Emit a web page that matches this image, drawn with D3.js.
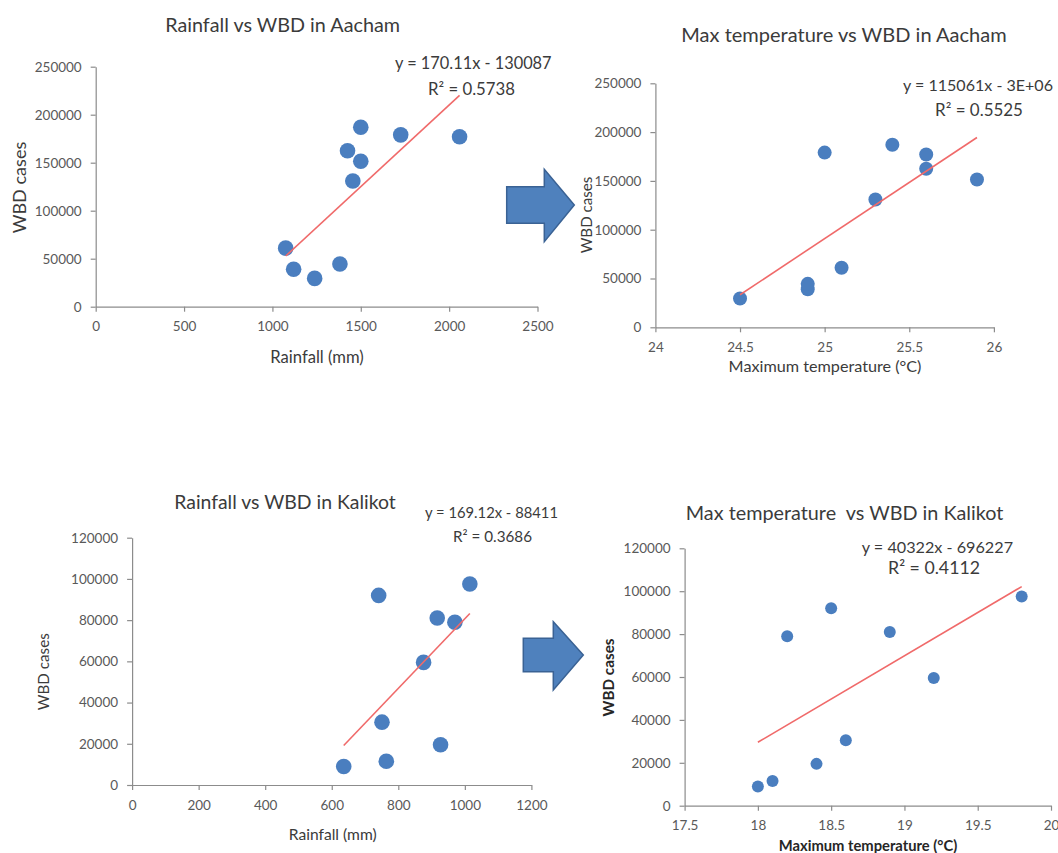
<!DOCTYPE html>
<html>
<head>
<meta charset="utf-8">
<script src="https://cdn.jsdelivr.net/npm/d3@7"></script>
<style>
  html, body { margin: 0; padding: 0; background: #fff; }
  svg { display: block; }
  text { font-family: Lato, "Open Sans", sans-serif; }
</style>
</head>
<body>
<svg id="chart" width="1058" height="853"></svg>
<script>
// ---------------- DATA ----------------
const aachamRainfall = [1075, 1120, 1239, 1382, 1455, 1425, 1500, 1500, 1726, 2059];
const aachamMaxTemp  = [25.1, 24.9, 24.5, 24.9, 25.3, 25.6, 25.9, 25.4, 25.0, 25.6];
const aachamWBD      = [61000, 39000, 29500, 44500, 131000, 162500, 151500, 187000, 179000, 177000];

const kalikotRainfall = [636, 764, 970, 927, 741, 751, 917, 876, 1015];
const kalikotMaxTemp  = [18.0, 18.1, 18.2, 18.4, 18.5, 18.6, 18.9, 19.2, 19.8];
const kalikotWBD      = [9000, 11500, 79000, 19500, 92000, 30500, 81000, 59500, 97500];

const rainAachamTicks  = [0, 500, 1000, 1500, 2000, 2500];
const tempAachamTicks  = [24, 24.5, 25, 25.5, 26];
const wbdAachamTicks   = [0, 50000, 100000, 150000, 200000, 250000];
const rainKalikotTicks = [0, 200, 400, 600, 800, 1000, 1200];
const tempKalikotTicks = [17.5, 18, 18.5, 19, 19.5, 20];
const wbdKalikotTicks  = [0, 20000, 40000, 60000, 80000, 100000, 120000];

const chartTitles = ["Rainfall vs WBD in Aacham", "Max temperature vs WBD in Aacham",
                     "Rainfall vs WBD in Kalikot", "Max temperature  vs WBD in Kalikot"];
const xAxisTitles = ["Rainfall (mm)", "Maximum temperature (°C)", "Rainfall (mm)", "Maximum temperature (°C)"];
const yAxisTitle  = "WBD cases";

const trendSlopes     = [170.11, 115061, 169.12, 40322];
const trendIntercepts = [-130087, -2785650, -88411, -696227];
const equationLabels  = ["y = 170.11x - 130087", "y = 115061x - 3E+06", "y = 169.12x - 88411", "y = 40322x - 696227"];
const r2Labels        = ["R² = 0.5738", "R² = 0.5525", "R² = 0.3686", "R² = 0.4112"];

// ---------------- LAYOUT ----------------
const panels = [
  { xs: aachamRainfall, ys: aachamWBD, xTicks: rainAachamTicks, yTicks: wbdAachamTicks,
    xr: [95.7, 537.5], yr: [306.7, 66.7], r: 7.8,
    title: {x: 282.6, y: 25, w: 235}, xt: {x: 317, y: 356.7, w: 93.6}, yt: {x: 19.6, y: 187.5, w: 91.6},
    eq1: {x: 473.3, y: 63.5, w: 156.7}, eq2: {x: 471.5, y: 89, w: 87}, bold: false },
  { xs: aachamMaxTemp, ys: aachamWBD, xTicks: tempAachamTicks, yTicks: wbdAachamTicks,
    xr: [655.4, 993.9], yr: [327.3, 83.3], r: 7.0,
    title: {x: 844, y: 35, w: 325.6}, xt: {x: 825, y: 366.7, w: 193}, yt: {x: 586.8, y: 215, w: 76.7},
    eq1: {x: 978, y: 85, w: 150}, eq2: {x: 979, y: 110, w: 88}, bold: false },
  { xs: kalikotRainfall, ys: kalikotWBD, xTicks: rainKalikotTicks, yTicks: wbdKalikotTicks,
    xr: [132.1, 531.4], yr: [785, 537.7], r: 7.8,
    title: {x: 285, y: 502.7, w: 221.7}, xt: {x: 332.7, y: 835, w: 88}, yt: {x: 43.6, y: 671.7, w: 77},
    eq1: {x: 491.5, y: 513, w: 133}, eq2: {x: 492.5, y: 537, w: 79}, bold: false },
  { xs: kalikotMaxTemp, ys: kalikotWBD, xTicks: tempKalikotTicks, yTicks: wbdKalikotTicks,
    xr: [684.6, 1051], yr: [805.7, 548.3], r: 6.0,
    title: {x: 844.6, y: 513.3, w: 318}, xt: {x: 868, y: 846, w: 178.6}, yt: {x: 609, y: 677.5, w: 78},
    eq1: {x: 937.4, y: 547, w: 151.3}, eq2: {x: 934, y: 568, w: 92}, bold: true }
];

const arrows = [
  { left: 506.7, st: 186.7, sb: 223.3, hb: 544.3, ht: 169.3, hbo: 241.7, tip: 574.3 },
  { left: 523.3, st: 638.3, sb: 671.7, hb: 553.3, ht: 621.7, hbo: 690.0, tip: 583.3 }
];

const svg = d3.select("#chart");
svg.append("rect").attr("width", 1058).attr("height", 853).attr("fill", "#fff");

function fit(sel, w) {
  const base = 20;
  sel.attr("font-size", base);
  const len = sel.node().getComputedTextLength();
  sel.attr("font-size", base * w / len);
  return sel;
}

const AXIS = "#8c8c8c", TICKTXT = "#595959", TXT = "#3b3b3b";
const DOT = "#4a7ebf", TREND = "#f06a6a";

panels.forEach((p, i) => {
  const x = d3.scaleLinear().domain(d3.extent(p.xTicks)).range(p.xr);
  const y = d3.scaleLinear().domain(d3.extent(p.yTicks)).range(p.yr);
  const g = svg.append("g");

  const xa = g.append("g").attr("transform", `translate(0,${p.yr[0]})`)
    .call(d3.axisBottom(x).tickValues(p.xTicks).tickSize(5).tickSizeOuter(0).tickPadding(10).tickFormat(d => String(d)));
  const ya = g.append("g").attr("transform", `translate(${p.xr[0]},0)`)
    .call(d3.axisLeft(y).tickValues(p.yTicks).tickSize(5).tickSizeOuter(0).tickPadding(9).tickFormat(d => String(d)));
  [xa, ya].forEach(a => {
    a.select(".domain").attr("stroke", AXIS).attr("stroke-width", 1.2);
    a.selectAll(".tick line").attr("stroke", AXIS).attr("stroke-width", 1.2);
    a.selectAll(".tick text").attr("fill", TICKTXT).attr("font-size", 13.5)
      .attr("font-family", "Lato, sans-serif");
  });

  // points
  g.append("g").selectAll("circle").data(p.xs.map((v, k) => [v, p.ys[k]])).join("circle")
    .attr("cx", d => x(d[0])).attr("cy", d => y(d[1])).attr("r", p.r).attr("fill", DOT);

  // trendline
  const xmin = d3.min(p.xs), xmax = d3.max(p.xs);
  const f = v => trendSlopes[i] * v + trendIntercepts[i];
  g.append("line")
    .attr("x1", x(xmin)).attr("y1", y(f(xmin)))
    .attr("x2", x(xmax)).attr("y2", y(f(xmax)))
    .attr("stroke", TREND).attr("stroke-width", 1.6);

  // titles
  const t = g.append("text").attr("x", p.title.x).attr("y", p.title.y).attr("dy", "0.35em")
    .attr("text-anchor", "middle").attr("fill", TXT).style("white-space", "pre").text(chartTitles[i]);
  fit(t, p.title.w);

  const xt = g.append("text").attr("x", p.xt.x).attr("y", p.xt.y).attr("dy", "0.35em")
    .attr("text-anchor", "middle").attr("fill", p.bold ? "#262626" : TXT)
    .attr("font-weight", p.bold ? "bold" : "normal").text(xAxisTitles[i]);
  fit(xt, p.xt.w);

  const yt = g.append("text").attr("transform", `translate(${p.yt.x},${p.yt.y}) rotate(-90)`)
    .attr("dy", "0.35em").attr("text-anchor", "middle").attr("fill", p.bold ? "#262626" : TXT)
    .attr("font-weight", p.bold ? "bold" : "normal").text(yAxisTitle);
  fit(yt, p.yt.w);

  const e1 = g.append("text").attr("x", p.eq1.x).attr("y", p.eq1.y).attr("dy", "0.35em")
    .attr("text-anchor", "middle").attr("fill", TXT).text(equationLabels[i]);
  fit(e1, p.eq1.w);
  const e2 = g.append("text").attr("x", p.eq2.x).attr("y", p.eq2.y).attr("dy", "0.35em")
    .attr("text-anchor", "middle").attr("fill", TXT).text(r2Labels[i]);
  fit(e2, p.eq2.w);
});

// arrows
arrows.forEach(a => {
  const mid = (a.st + a.sb) / 2;
  const pts = [[a.left, a.st], [a.hb, a.st], [a.hb, a.ht], [a.tip, mid], [a.hb, a.hbo], [a.hb, a.sb], [a.left, a.sb]];
  svg.append("polygon").attr("points", pts.map(q => q.join(",")).join(" "))
    .attr("fill", "#4f81bd").attr("stroke", "#3a6294").attr("stroke-width", 1.5);
});
</script>
</body>
</html>
